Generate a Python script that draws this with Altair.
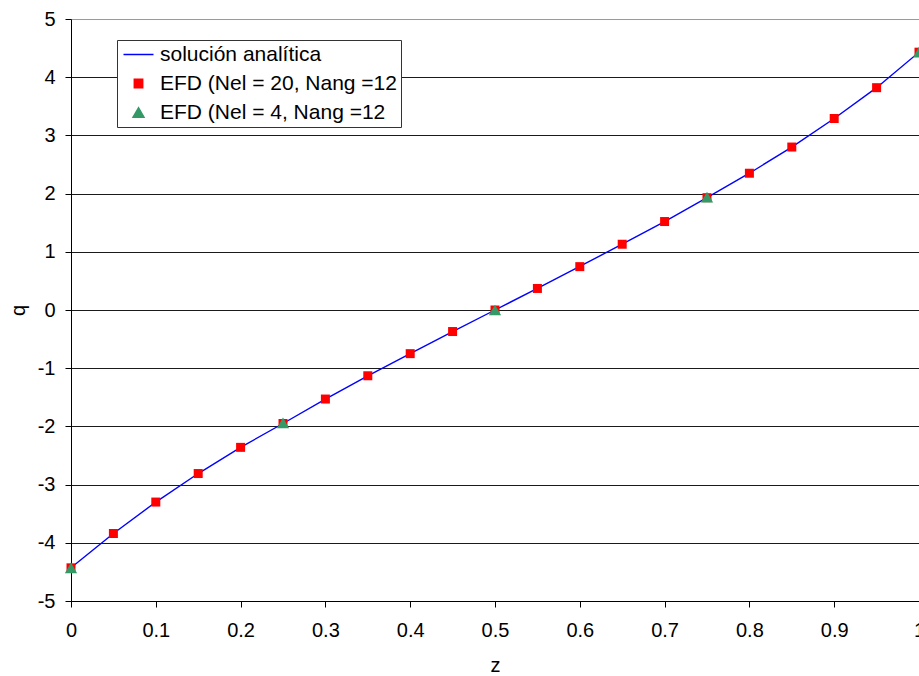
import altair as alt
import pandas as pd

# --- data ---
series_names = ["solución analítica", "EFD (Nel = 20, Nang =12", "EFD (Nel = 4, Nang =12"]
series_colors = ["#0000FF", "#FF0000", "#339966"]
series_shapes = ["stroke", "square", "triangle-up"]

z_analytic = [0.0, 0.05, 0.1, 0.15, 0.2, 0.25, 0.3, 0.35, 0.4, 0.45, 0.5,
              0.55, 0.6, 0.65, 0.7, 0.75, 0.8, 0.85, 0.9, 0.95, 1.0]
q_analytic = [-4.43, -3.84, -3.30, -2.81, -2.36, -1.95, -1.53, -1.13, -0.75, -0.37, 0.0,
              0.37, 0.75, 1.13, 1.52, 1.93, 2.35, 2.80, 3.29, 3.82, 4.43]

z_nel20 = [0.0, 0.05, 0.1, 0.15, 0.2, 0.25, 0.3, 0.35, 0.4, 0.45, 0.5,
           0.55, 0.6, 0.65, 0.7, 0.75, 0.8, 0.85, 0.9, 0.95, 1.0]
q_nel20 = [-4.43, -3.84, -3.30, -2.81, -2.36, -1.95, -1.53, -1.13, -0.75, -0.37, 0.0,
           0.37, 0.745, 1.13, 1.52, 1.93, 2.35, 2.80, 3.29, 3.82, 4.43]

z_nel4 = [0.0, 0.25, 0.5, 0.75, 1.0]
q_nel4 = [-4.43, -1.94, 0.0, 1.94, 4.43]

x_ticks = [0, 0.1, 0.2, 0.3, 0.4, 0.5, 0.6, 0.7, 0.8, 0.9, 1]
y_ticks = [-5, -4, -3, -2, -1, 0, 1, 2, 3, 4, 5]

line_df = pd.DataFrame({"z": z_analytic, "q": q_analytic, "serie": series_names[0]})
sq_df = pd.DataFrame({"z": z_nel20, "q": q_nel20, "serie": series_names[1]})
tri_df = pd.DataFrame({"z": z_nel4, "q": q_nel4, "serie": series_names[2]})

FONT = "Liberation Sans"

x_enc = alt.X(
    "z:Q",
    scale=alt.Scale(domain=[0, 1], nice=False, zero=False),
    axis=alt.Axis(
        values=x_ticks, labelExpr="'' + datum.value", grid=False,
        tickSize=6, tickColor="black", domainColor="black",
        labelPadding=13, labelFontSize=20, labelColor="black", labelFlush=False,
        labelOverlap=False, labelFont=FONT,
        title="z", titleFontSize=20, titleFontWeight="normal", titleColor="black",
        titleFont=FONT, titleY=64, titleBaseline="middle",
    ),
)
y_enc = alt.Y(
    "q:Q",
    scale=alt.Scale(domain=[-5, 5], nice=False),
    axis=alt.Axis(
        values=y_ticks, labelExpr="'' + datum.value", grid=True,
        gridColor={"condition": {"test": "datum.value === 5", "value": "#9a9a9a"}, "value": "#1a1a1a"},
        gridWidth=1,
        tickSize=6, tickColor="black", domainColor="black",
        labelPadding=10, labelFontSize=20, labelColor="black", labelFont=FONT,
        labelFlush=False, labelOverlap=False,
        title="q", titleFontSize=20, titleFontWeight="normal", titleColor="black",
        titleFont=FONT, titleX=-53, titleY=291, titleAngle=270,
        titleAlign="center", titleBaseline="middle",
    ),
)

t_line = "datum.value === '" + series_names[0] + "'"
t_sq = "datum.value === '" + series_names[1] + "'"

legend = alt.Legend(
    title=None, orient="none", legendX=46, legendY=21,
    padding=4, strokeColor="#333333", fillColor="white",
    labelFont=FONT, labelFontSize=21, labelColor="black", labelOffset=11,
    labelLimit=0, symbolOffset=7,
    rowPadding=7,
    symbolSize={"expr": "(" + t_line + ") ? 900 : ((" + t_sq + ") ? 70 : 120)"},
    symbolStrokeWidth=1.5,
    symbolStrokeColor={"expr": "(" + t_line + ") ? '#0000FF' : 'transparent'"},
)

color = alt.Color("serie:N", scale=alt.Scale(domain=series_names, range=series_colors), legend=legend)
shape = alt.Shape("serie:N", scale=alt.Scale(domain=series_names, range=series_shapes), legend=legend)

line = alt.Chart(line_df).mark_line(strokeWidth=1.4).encode(x=x_enc, y=y_enc, color=color)
squares = alt.Chart(sq_df).mark_point(filled=True, opacity=1, size=81).encode(
    x=x_enc, y=y_enc, color=color, shape=shape)
triangles = alt.Chart(tri_df).mark_point(filled=True, opacity=1, size=150).encode(
    x=x_enc, y=y_enc, color=color, shape=shape)

chart = alt.layer(line, squares, triangles).properties(
    width=848, height=582,
    padding={"left": 71, "top": 19, "right": 0, "bottom": 75},
    autosize=alt.AutoSizeParams(type="none"),
    background="white",
).configure_view(stroke=None).configure(font=FONT)

chart.save("out.html", embed_options={"renderer": "svg", "actions": False})
